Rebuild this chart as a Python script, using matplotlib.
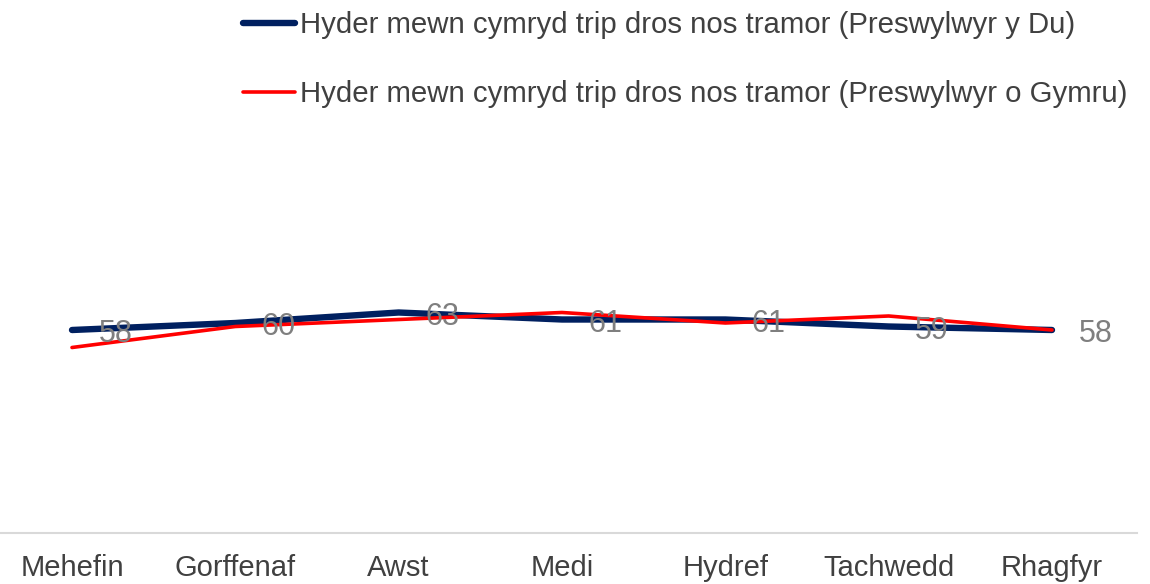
import matplotlib
matplotlib.use("Agg")
import matplotlib.pyplot as plt
from matplotlib.lines import Line2D

plt.rcParams['font.family'] = ['Liberation Sans', 'DejaVu Sans']

months = ["Mehefin", "Gorffenaf", "Awst", "Medi", "Hydref", "Tachwedd", "Rhagfyr"]
uk_values = [58, 60, 63, 61, 61, 59, 58]
wales_values = [53, 59, 61, 63, 60, 62, 58]
series_names = ["Hyder mewn cymryd trip dros nos tramor (Preswylwyr y Du)",
                "Hyder mewn cymryd trip dros nos tramor (Preswylwyr o Gymru)"]

W, H = 1150, 584
fig = plt.figure(figsize=(W / 100, H / 100), dpi=100)
ax = fig.add_axes([0, (H - 533) / H, 1137 / W, 350 / H])

x = list(range(len(months)))
l1, = ax.plot(x, uk_values, color="#002060", lw=4.6, solid_capstyle="round",
              solid_joinstyle="round", zorder=3)
l2, = ax.plot(x, wales_values, color="#FF0000", lw=2.6, solid_capstyle="round",
              solid_joinstyle="round", zorder=4)

for xi, v in zip(x, uk_values):
    ax.annotate(f"{v}", (xi, v), xytext=(19, -3), textcoords="offset points",
                ha="left", va="center", fontsize=22, color="#7f7f7f", zorder=5)

px_per_unit = (1052 - 72) / 6
ax.set_xlim(-72 / px_per_unit, (1137 - 72) / px_per_unit)
ax.set_ylim(0, 100)

for s in ["top", "right", "left"]:
    ax.spines[s].set_visible(False)
ax.spines["bottom"].set_color("#d9d9d9")
ax.spines["bottom"].set_linewidth(1.5)
ax.set_yticks([])
ax.set_xticks(x)
ax.set_xticklabels(months, fontsize=21, color="#404040")
ax.tick_params(axis="x", length=0, pad=15)

handles = [Line2D([], [], color="#002060", lw=4.6, solid_capstyle="round"),
           Line2D([], [], color="#FF0000", lw=2.6, solid_capstyle="round")]
leg = fig.legend(handles, series_names, loc="upper left",
                 bbox_to_anchor=(243 / W, 1 - 11 / H), frameon=False,
                 fontsize=21.2, handlelength=1.75, handletextpad=0.2,
                 borderpad=0, borderaxespad=0, labelspacing=1.4)
for t in leg.get_texts():
    t.set_color("#404040")

fig.savefig("out.png", dpi=100)
